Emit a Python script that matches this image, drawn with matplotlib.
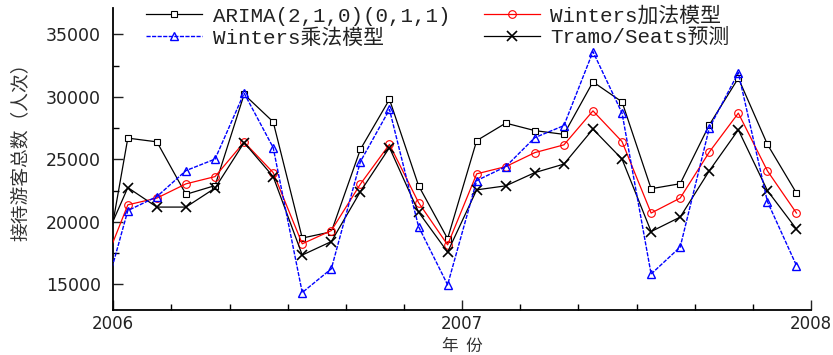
import numpy as np
import matplotlib

matplotlib.use("Agg")
import matplotlib.pyplot as plt
from matplotlib.ticker import MultipleLocator

plt.rcParams["font.family"] = ["DejaVu Sans", "Noto Sans CJK SC"]

# monthly index: Dec 2005 (clipped at left edge), then Jan 2006 .. Dec 2007
month_idx = np.arange(-1, 24)

arima = [13500, 26700, 26400, 22200, 22900, 30200, 28000, 18700, 19200, 25800, 29800, 22900, 18650,
         26500, 27900, 27300, 27000, 31200, 29600, 22650, 23050, 27750, 31500, 26200, 22300]
winters_add = [15490, 21360, 21900, 23040, 23620, 26380, 23940, 18240, 19300, 23020, 26200, 21540, 18160,
               23840, 24420, 25540, 26160, 28880, 26420, 20700, 21900, 25580, 28700, 24080, 20700]
winters_mul = [12500, 20900, 22020, 24100, 25020, 30300, 25940, 14340, 16240, 24820, 28990, 19620, 14960,
               23300, 24420, 26740, 27700, 33620, 28700, 15820, 17980, 27500, 31940, 21620, 16500]
tramo = [17450, 22740, 21180, 21180, 22700, 26340, 23620, 17340, 18420, 22420, 25940, 20780, 17580,
         22560, 22880, 23940, 24620, 27420, 25020, 19220, 20380, 24080, 27360, 22500, 19420]

labels = ["ARIMA(2,1,0)(0,1,1)", "Winters乘法模型", "Winters加法模型", "Tramo/Seats预测"]
year_ticks = [2006, 2007, 2008]

x = 2006 + (month_idx + 0.5) / 12.0

fig = plt.figure(figsize=(8.33, 3.55), dpi=100)
ax = fig.add_axes([0.136, 0.127, 0.8376, 0.850])

h_arima, = ax.plot(x, arima, color="black", lw=0.9, marker="s", ms=4.2,
                   mfc="white", mec="black", mew=0.8, zorder=3)
h_add, = ax.plot(x, winters_add, color="red", lw=0.9, marker="o", ms=5.5,
                 mfc="none", mec="red", mew=0.8, zorder=3)
h_tramo, = ax.plot(x, tramo, color="black", lw=0.9, marker="x", ms=6.5,
                   mec="black", mew=1.2, zorder=3)
h_mul, = ax.plot(x, winters_mul, color="blue", lw=1.0, ls=(0, (3, 1)), marker="^", ms=6,
                 mfc="none", mec="blue", mew=1.0, zorder=4)

ax.set_xlim(2006, 2008)
ax.set_ylim(12950, 37100)

for side in ("top", "right"):
    ax.spines[side].set_visible(False)
for side in ("left", "bottom"):
    ax.spines[side].set_linewidth(1.3)

ax.set_xticks(year_ticks)
ax.set_xticklabels([str(y) for y in year_ticks])
ax.xaxis.set_minor_locator(MultipleLocator(2 / 12))
ax.yaxis.set_major_locator(MultipleLocator(5000))
ax.yaxis.set_minor_locator(MultipleLocator(2500))
ax.set_yticks([15000, 20000, 25000, 30000, 35000])

ax.tick_params(which="major", direction="in", length=7, width=1.0, labelsize=12.5, colors="#222222")
ax.tick_params(which="minor", direction="in", length=4.5, width=1.0)
ax.tick_params(axis="y", pad=9)
ax.tick_params(axis="x", pad=4, labelsize=12)

ax.set_ylabel("接待游客总数（人次）", family=["Noto Sans CJK SC", "DejaVu Sans"],
              fontsize=13.5, color="#333333")
ax.yaxis.set_label_coords(-0.118, 0.54)
ax.set_xlabel("年  份", family=["Noto Sans CJK SC", "DejaVu Sans"], fontsize=12, color="#333333")
ax.xaxis.set_label_coords(0.5, -0.092)

leg = ax.legend([h_arima, h_mul, h_add, h_tramo], labels, ncol=2, frameon=False,
                loc="upper left", bbox_to_anchor=(0.035, 1.035),
                prop={"family": ["Liberation Mono", "Noto Sans CJK SC"], "size": 15},
                handlelength=2.7, handletextpad=0.5, columnspacing=1.6,
                labelspacing=0.12, borderaxespad=0.0)
for t in leg.get_texts():
    t.set_color("#222222")

fig.savefig("out.png", dpi=100)
